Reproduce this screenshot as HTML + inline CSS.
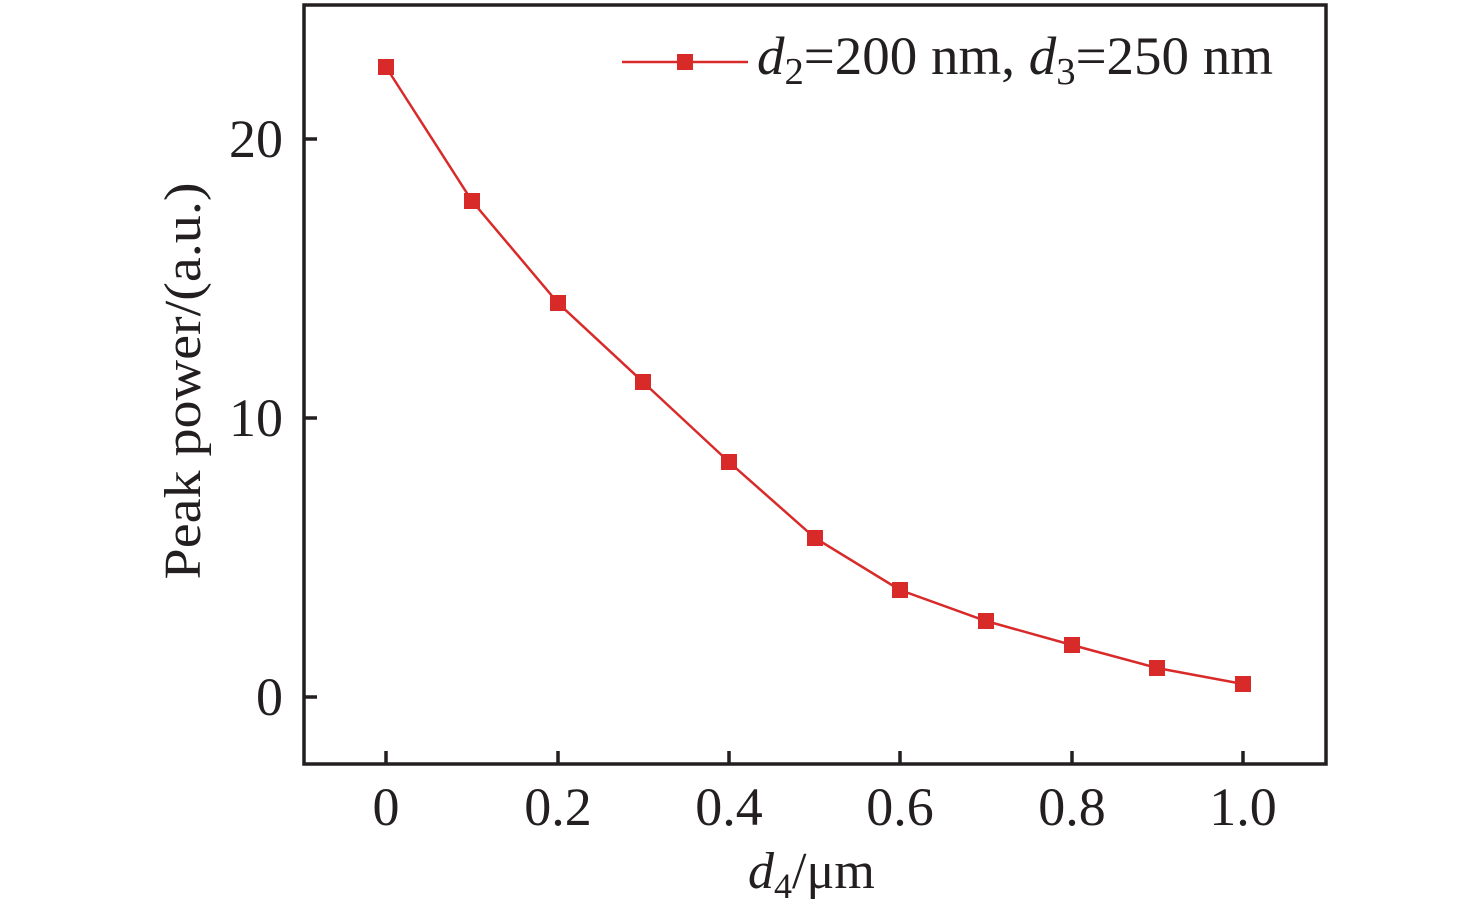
<!DOCTYPE html>
<html><head><meta charset="utf-8"><style>
html,body{margin:0;padding:0;background:#fff;}
svg{display:block;}
text{font-family:"Liberation Serif",serif;fill:#231f20;}
</style></head><body>
<svg width="1476" height="911" viewBox="0 0 1476 911" xmlns="http://www.w3.org/2000/svg">
<rect x="304" y="5" width="1022" height="759" fill="none" stroke="#231f20" stroke-width="3.5"/>
<g stroke="#231f20" stroke-width="3.5">
<line x1="304" y1="139" x2="317" y2="139"/>
<line x1="304" y1="418" x2="317" y2="418"/>
<line x1="304" y1="697" x2="317" y2="697"/>
<line x1="386" y1="764" x2="386" y2="751"/>
<line x1="558" y1="764" x2="558" y2="751"/>
<line x1="729" y1="764" x2="729" y2="751"/>
<line x1="900" y1="764" x2="900" y2="751"/>
<line x1="1072" y1="764" x2="1072" y2="751"/>
<line x1="1243" y1="764" x2="1243" y2="751"/>
</g>
<g font-size="54" text-anchor="end">
<text x="283" y="157">20</text>
<text x="283" y="436">10</text>
<text x="283" y="715">0</text>
</g>
<g font-size="54" text-anchor="middle">
<text x="386" y="825">0</text>
<text x="558" y="825">0.2</text>
<text x="729" y="825">0.4</text>
<text x="900" y="825">0.6</text>
<text x="1072" y="825">0.8</text>
<text x="1243" y="825">1.0</text>
</g>
<text x="748" y="888" font-size="52"><tspan font-style="italic">d</tspan><tspan font-size="36" dy="10">4</tspan><tspan dy="-10">/μm</tspan></text>
<text transform="translate(200,381) rotate(-90)" font-size="52" text-anchor="middle" textLength="397" lengthAdjust="spacingAndGlyphs">Peak power/(a.u.)</text>
<polyline fill="none" stroke="#d92a2a" stroke-width="2.5" points="386,67 472,201 558,303 643,382 729,462 815,538 900,590 986,621 1072,645 1157,668 1243,684"/>
<g fill="#d92a2a">
<rect x="378" y="59" width="16" height="16"/>
<rect x="464" y="193" width="16" height="16"/>
<rect x="550" y="295" width="16" height="16"/>
<rect x="635" y="374" width="16" height="16"/>
<rect x="721" y="454" width="16" height="16"/>
<rect x="807" y="530" width="16" height="16"/>
<rect x="892" y="582" width="16" height="16"/>
<rect x="978" y="613" width="16" height="16"/>
<rect x="1064" y="637" width="16" height="16"/>
<rect x="1149" y="660" width="16" height="16"/>
<rect x="1235" y="676" width="16" height="16"/>
</g>
<line x1="622" y1="62" x2="748" y2="62" stroke="#d92a2a" stroke-width="2.5"/>
<rect x="677" y="54" width="16" height="16" fill="#d92a2a"/>
<text x="757" y="74" font-size="54" textLength="516" lengthAdjust="spacingAndGlyphs"><tspan font-style="italic">d</tspan><tspan font-size="38" dy="10">2</tspan><tspan dy="-10">=200 nm, </tspan><tspan font-style="italic">d</tspan><tspan font-size="38" dy="10">3</tspan><tspan dy="-10">=250 nm</tspan></text>
</svg>
</body></html>
